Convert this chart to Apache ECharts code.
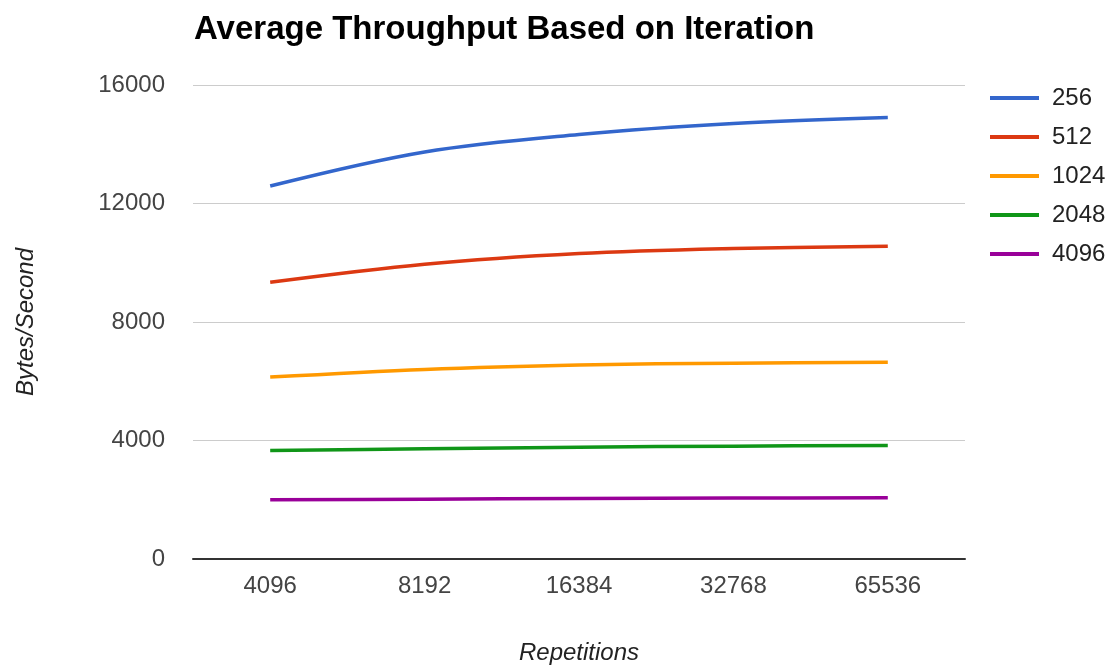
<!DOCTYPE html>
<html>
<head>
<meta charset="utf-8">
<script src="https://cdn.jsdelivr.net/npm/echarts@6/dist/echarts.min.js"></script>
<style>html,body{margin:0;padding:0;background:#fff;}#c{width:1114px;height:670px;}</style>
</head>
<body>
<div id="c"></div>
<script>
const categories = ['4096', '8192', '16384', '32768', '65536'];
const seriesNames = ['256', '512', '1024', '2048', '4096'];
const s256 = [12590, 13740, 14330, 14700, 14900];
const s512 = [9340, 9950, 10310, 10480, 10560];
const s1024 = [6140, 6400, 6550, 6610, 6640];
const s2048 = [3660, 3720, 3775, 3810, 3830];
const s4096 = [2000, 2020, 2040, 2055, 2065];
const yTicks = [0, 4000, 8000, 12000, 16000];
const colors = ['#3366cc', '#dc3912', '#ff9900', '#109618', '#990099'];
const values = [s256, s512, s1024, s2048, s4096];

const FONT = '"Liberation Sans", Arial, sans-serif';
const chart = echarts.init(document.getElementById('c'), null, {renderer: 'canvas'});
chart.setOption({
  animation: false,
  backgroundColor: '#fff',
  color: colors,
  title: {
    text: 'Average Throughput Based on Iteration',
    left: 189, top: 8,
    textStyle: {fontFamily: FONT, fontSize: 33, fontWeight: 'bold', color: '#000'}
  },
  legend: {
    orient: 'vertical',
    left: 985, top: 81,
    itemWidth: 49, itemHeight: 4, itemGap: 15,
    icon: 'rect',
    data: seriesNames,
    formatter: name => '{t|' + name + '}',
    textStyle: {
      fontFamily: FONT, fontSize: 24, color: '#222',
      rich: {t: {fontFamily: FONT, fontSize: 24, color: '#222', padding: [0, 0, 0, 8]}}
    }
  },
  grid: {left: 193, right: 149, top: 85, bottom: 111, containLabel: false},
  xAxis: {
    type: 'category',
    data: categories,
    boundaryGap: true,
    name: 'Repetitions',
    nameLocation: 'middle',
    nameGap: 82,
    nameTextStyle: {fontFamily: FONT, fontSize: 24, fontStyle: 'italic', color: '#222'},
    axisLine: {show: true, lineStyle: {color: '#333', width: 2}},
    axisTick: {show: false},
    axisLabel: {fontFamily: FONT, fontSize: 24, color: '#444', margin: 15}
  },
  yAxis: {
    type: 'value',
    min: yTicks[0], max: yTicks[yTicks.length - 1], interval: 4000,
    name: 'Bytes/Second',
    nameLocation: 'middle',
    nameGap: 155,
    nameTextStyle: {fontFamily: FONT, fontSize: 24, fontStyle: 'italic', color: '#222'},
    axisLine: {show: false},
    axisTick: {show: false},
    splitLine: {lineStyle: {color: '#cccccc', width: 1}},
    axisLabel: {fontFamily: FONT, fontSize: 24, color: '#444', margin: 28, formatter: v => String(v)}
  },
  series: seriesNames.map((n, i) => ({
    name: n,
    type: 'line',
    data: values[i],
    smooth: 0.35,
    showSymbol: false,
    symbol: 'none',
    lineStyle: {width: 3.5, color: colors[i]},
    itemStyle: {color: colors[i]}
  }))
});
</script>
</body>
</html>
